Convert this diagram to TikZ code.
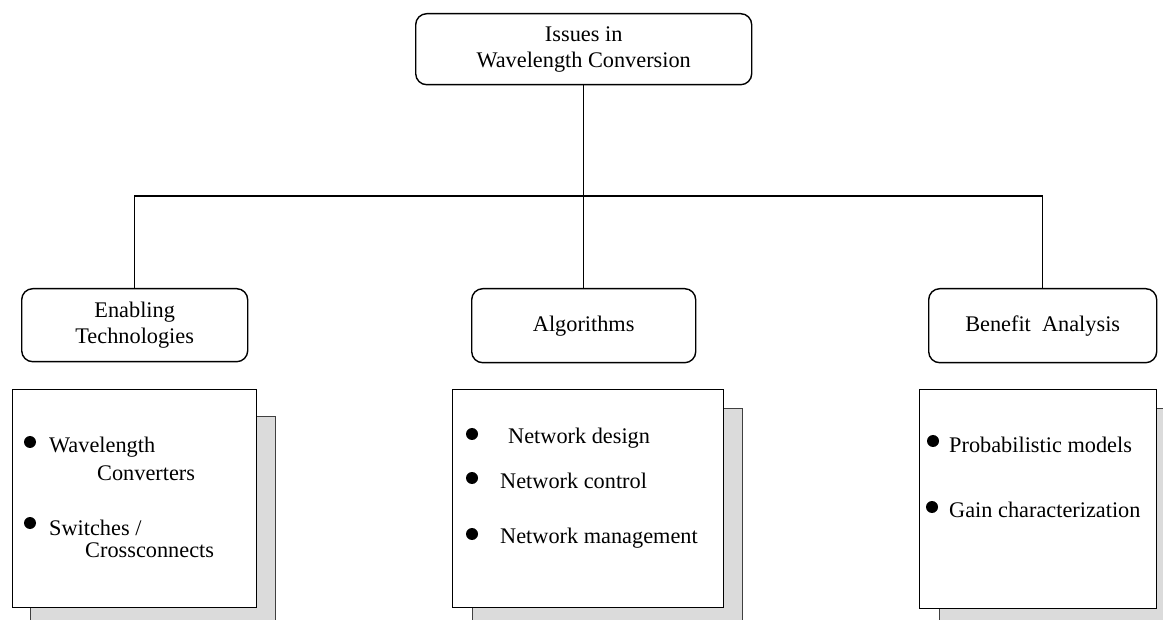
\documentclass[tikz,border=0pt]{standalone}
\usepackage{fontspec}
\setmainfont{Liberation Serif}
\begin{document}
\begin{tikzpicture}[x=1pt,y=-1pt,
  every node/.style={font=\fontsize{22.3pt}{26pt}\selectfont, inner sep=0pt},
  headbox/.style={draw, line width=1.4pt, rounded corners=11pt, align=center, anchor=north west},
  contentbox/.style={draw, line width=1.3pt, fill=white, anchor=north west},
  shadowbox/.style={draw=black!75, line width=1pt, fill=black!14, anchor=north west},
  conn/.style={line width=1.4pt},
  item/.style={anchor=base west},
  bul/.style={circle, fill=black, minimum size=12pt, inner sep=0pt}
]
\path[use as bounding box] (0,0) rectangle (1163,620);
\clip (0,0) rectangle (1163,620);

% header boxes
\node[headbox, minimum width=336pt, minimum height=71pt] (top) at (415,13) {Issues in\\Wavelength Conversion};
\node[headbox, minimum width=226pt, minimum height=73pt] (enab) at (21,288) {Enabling\\Technologies};
\node[headbox, minimum width=224pt, minimum height=74pt] (alg) at (471,288) {Algorithms};
\node[headbox, minimum width=228pt, minimum height=74pt] (ben) at (928,288) {Benefit\ \ Analysis};

% connectors
\coordinate (hub) at (583,196);
\draw[conn] (top.south) -- (alg.north);
\draw[conn] (enab.north) |- (hub) -| (ben.north);

% shadows
\node[shadowbox, minimum width=245pt, minimum height=230pt] (sh1) at (30,416) {};
\node[shadowbox, minimum width=270pt, minimum height=230pt] (sh2) at (472,408) {};
\node[shadowbox, minimum width=250pt, minimum height=230pt] (sh3) at (939,408) {};

% content boxes
\node[contentbox, minimum width=244pt, minimum height=218pt] (c1) at (12,389) {};
\node[contentbox, minimum width=271pt, minimum height=218pt] (c2) at (452,389) {};
\node[contentbox, minimum width=237pt, minimum height=219pt] (c3) at (919,389) {};

% left items
\node[bul] (b11) at (30,442) {};
\node[item] (t11a) at (49,453) {Wavelength};
\node[item] (t11b) at (97,480) {Converters};
\node[bul] (b12) at (30,523) {};
\node[item] (t12a) at (49,535) {Switches /};
\node[item] (t12b) at (85,557) {Crossconnects};

% middle items
\node[bul] (b21) at (472,434) {};
\node[item] (t21) at (508,443) {Network design};
\node[bul] (b22) at (472,478) {};
\node[item] (t22) at (500,488) {Network control};
\node[bul] (b23) at (472,534) {};
\node[item] (t23) at (500,543) {Network management};

% right items
\node[bul] (b31) at (933,441) {};
\node[item] (t31) at (949,453) {Probabilistic models};
\node[bul] (b32) at (932,507) {};
\node[item] (t32) at (949,517) {Gain characterization};
\end{tikzpicture}
\end{document}
